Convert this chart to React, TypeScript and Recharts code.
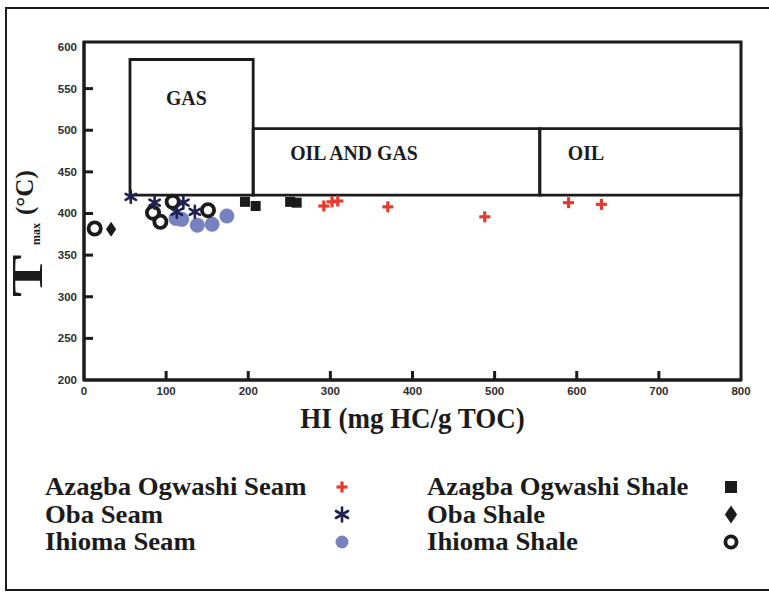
import React from 'react';
import { ScatterChart, Scatter, XAxis, YAxis, ReferenceArea } from 'recharts';

const INK = '#1b1b1b';
const SERIF = '"Liberation Serif", "Times New Roman", serif';
const SANS = '"Liberation Sans", Arial, sans-serif';

const hiTicks = [0, 100, 200, 300, 400, 500, 600, 700, 800];
const tmaxTicks = [200, 250, 300, 350, 400, 450, 500, 550, 600];

// maturation zones on the HI / Tmax plane
const gasZoneHI = [56, 206];
const gasZoneTmax = [422, 585];
const oilGasZoneHI = [206, 555];
const oilZoneHI = [555, 800];
const liquidZoneTmax = [422, 502];

const azagbaSeamHI = [292, 302, 309, 370, 488, 590, 630];
const azagbaSeamTmax = [409, 414, 415, 408, 396, 413, 411];
const obaSeamHI = [57, 86, 113, 121, 135];
const obaSeamTmax = [420, 413, 402, 413, 402];
const ihiomaSeamHI = [112, 119, 138, 156, 174];
const ihiomaSeamTmax = [394, 393, 386, 387, 397];
const azagbaShaleHI = [196, 209, 251, 259];
const azagbaShaleTmax = [414, 409, 414, 413];
const obaShaleHI = [33];
const obaShaleTmax = [381];
const ihiomaShaleHI = [13, 84, 93, 108, 151];
const ihiomaShaleTmax = [382, 401, 390, 414, 404];

type MarkProps = { cx: number; cy: number; s: number };

const PlusMark = ({ cx, cy, s }: MarkProps) => (
  <g stroke="#e53a2f" strokeWidth={3.2}>
    <line x1={cx - s / 2} x2={cx + s / 2} y1={cy} y2={cy} />
    <line x1={cx} x2={cx} y1={cy - s / 2} y2={cy + s / 2} />
  </g>
);

const StarMark = ({ cx, cy, s }: MarkProps) => {
  const r = s / 2;
  return (
    <g stroke="#1f2150" strokeWidth={2.6} strokeLinecap="round">
      {[90, 30, 150].map((a) => {
        const dx = Math.cos((a * Math.PI) / 180) * r;
        const dy = Math.sin((a * Math.PI) / 180) * r;
        return <line key={a} x1={cx - dx} x2={cx + dx} y1={cy - dy} y2={cy + dy} />;
      })}
    </g>
  );
};

const DotMark = ({ cx, cy, s }: MarkProps) => <circle cx={cx} cy={cy} r={s / 2} fill="#7783c0" />;

const SquareMark = ({ cx, cy, s }: MarkProps) => (
  <rect x={cx - s / 2} y={cy - s / 2} width={s} height={s} fill={INK} />
);

const DiamondMark = ({ cx, cy, s }: MarkProps) => {
  const w = s * 0.34;
  const h = s / 2;
  return <polygon points={`${cx},${cy - h} ${cx + w},${cy} ${cx},${cy + h} ${cx - w},${cy}`} fill={INK} />;
};

const RingMark = ({ cx, cy, s }: MarkProps) => (
  <circle cx={cx} cy={cy} r={s / 2 - 1.9} fill="none" stroke={INK} strokeWidth={3.8} />
);

const toPoints = (hi: number[], tmax: number[]) => hi.map((v, i) => ({ hi: v, tmax: tmax[i] }));

// plotted back to front; legend slot = [column, row]
const series = [
  { name: 'Ihioma Seam', data: toPoints(ihiomaSeamHI, ihiomaSeamTmax), Mark: DotMark, size: 15, legendSize: 13, slot: [0, 2] },
  { name: 'Azagba Ogwashi Seam', data: toPoints(azagbaSeamHI, azagbaSeamTmax), Mark: PlusMark, size: 11, legendSize: 11, slot: [0, 0] },
  { name: 'Azagba Ogwashi Shale', data: toPoints(azagbaShaleHI, azagbaShaleTmax), Mark: SquareMark, size: 10, legendSize: 12, slot: [1, 0] },
  { name: 'Oba Shale', data: toPoints(obaShaleHI, obaShaleTmax), Mark: DiamondMark, size: 15, legendSize: 18, slot: [1, 1] },
  { name: 'Ihioma Shale', data: toPoints(ihiomaShaleHI, ihiomaShaleTmax), Mark: RingMark, size: 16, legendSize: 15, slot: [1, 2] },
  { name: 'Oba Seam', data: toPoints(obaSeamHI, obaSeamTmax), Mark: StarMark, size: 12, legendSize: 14, slot: [0, 1] },
];

const YTick = (props: any) => {
  const { x, y, payload } = props;
  const inner = payload.value !== tmaxTicks[0] && payload.value !== tmaxTicks[tmaxTicks.length - 1];
  return (
    <g>
      {inner && <line x1={x} x2={x + 9} y1={y} y2={y} stroke={INK} strokeWidth={3} />}
      <text x={x - 7} y={y + 4} textAnchor="end" fontFamily={SANS} fontWeight="bold" fontSize={11.5} fill="#2e2e2e">
        {payload.value}
      </text>
    </g>
  );
};

const XTick = (props: any) => {
  const { x, y, payload } = props;
  const inner = payload.value !== hiTicks[0] && payload.value !== hiTicks[hiTicks.length - 1];
  return (
    <g>
      {inner && <line x1={x} x2={x} y1={y} y2={y - 9} stroke={INK} strokeWidth={3} />}
      <text x={x} y={y + 15} textAnchor="middle" fontFamily={SANS} fontWeight="bold" fontSize={11.5} fill="#2e2e2e">
        {payload.value}
      </text>
    </g>
  );
};

const YTitle = ({ viewBox }: any) => {
  const bx = viewBox.x + 2;
  const by = viewBox.y + 255;
  return (
    <g transform={`translate(${bx},${by}) rotate(-90)`} fontFamily={SERIF} fontWeight="bold" fill={INK}>
      <text transform="scale(1.45,1)" x={0} y={0} fontSize={44}>T</text>
      <text x={52} y={-2} fontSize={12}>max</text>
      <text x={82} y={-9} fontSize={25}>(°C)</text>
    </g>
  );
};

const XTitle = ({ viewBox }: any) => (
  <text
    transform={`translate(${viewBox.x + viewBox.width / 2},${viewBox.y + 48}) scale(0.9,1)`}
    textAnchor="middle"
    fontFamily={SERIF}
    fontWeight="bold"
    fontSize={30}
    fill={INK}
  >
    HI (mg HC/g TOC)
  </text>
);

const zoneLabel = (text: string, dx: number, dy: number) => (p: any) => (
  <text
    transform={`translate(${p.viewBox.x + dx},${p.viewBox.y + dy}) scale(0.9,1)`}
    fontFamily={SERIF}
    fontWeight="bold"
    fontSize={22}
    fill={INK}
  >
    {text}
  </text>
);

const Legend = () => (
  <svg width={769} height={593} style={{ position: 'absolute', left: 0, top: 0, pointerEvents: 'none' }}>
    {series.map(({ name, Mark, legendSize, slot }) => {
      const [col, row] = slot;
      const base = 495 + row * 27.5;
      return (
        <g key={name}>
          <text
            transform={`translate(${col ? 427 : 45},${base}) scale(1.07,1)`}
            fontFamily={SERIF}
            fontWeight="bold"
            fontSize={25}
            fill={INK}
          >
            {name}
          </text>
          <Mark cx={col ? 731 : 342} cy={base - 8} s={legendSize} />
        </g>
      );
    })}
  </svg>
);

export default function App() {
  return (
    <div style={{ position: 'absolute', left: 0, top: 0, width: 769, height: 593, overflow: 'hidden', background: '#fff' }}>
      <div
        style={{
          position: 'absolute',
          left: 5,
          top: 7,
          width: 820,
          height: 580,
          border: `2.5px solid ${INK}`,
        }}
      />
      <div style={{ position: 'absolute', left: 0, top: 0 }}>
        <ScatterChart width={769} height={593} margin={{ top: 42, right: 28, bottom: 183, left: 40 }}>
          <XAxis
            type="number"
            dataKey="hi"
            domain={[0, 800]}
            ticks={hiTicks}
            allowDataOverflow
            height={30}
            tickSize={0}
            tickMargin={0}
            tick={<XTick />}
            axisLine={{ stroke: INK, strokeWidth: 3 }}
            label={XTitle}
          />
          <YAxis
            type="number"
            dataKey="tmax"
            domain={[200, 606]}
            ticks={tmaxTicks}
            allowDataOverflow
            width={44}
            tickSize={0}
            tickMargin={0}
            tick={<YTick />}
            axisLine={{ stroke: INK, strokeWidth: 3 }}
            label={YTitle}
          />
          <ReferenceArea x1={0} x2={800} y1={200} y2={606} fill="none" stroke={INK} strokeWidth={3} />
          <ReferenceArea
            x1={gasZoneHI[0]}
            x2={gasZoneHI[1]}
            y1={gasZoneTmax[0]}
            y2={gasZoneTmax[1]}
            fill="none"
            stroke={INK}
            strokeWidth={2.8}
            label={zoneLabel('GAS', 36, 46)}
          />
          <ReferenceArea
            x1={oilGasZoneHI[0]}
            x2={oilGasZoneHI[1]}
            y1={liquidZoneTmax[0]}
            y2={liquidZoneTmax[1]}
            fill="none"
            stroke={INK}
            strokeWidth={2.8}
            label={zoneLabel('OIL AND GAS', 37, 31)}
          />
          <ReferenceArea
            x1={oilZoneHI[0]}
            x2={oilZoneHI[1]}
            y1={liquidZoneTmax[0]}
            y2={liquidZoneTmax[1]}
            fill="none"
            stroke={INK}
            strokeWidth={2.8}
            label={zoneLabel('OIL', 28, 31)}
          />
          {series.map(({ name, data, Mark, size }) => (
            <Scatter
              key={name}
              name={name}
              data={data}
              isAnimationActive={false}
              shape={(p: any) => <Mark cx={p.cx} cy={p.cy} s={size} />}
            />
          ))}
        </ScatterChart>
      </div>
      <Legend />
    </div>
  );
}
